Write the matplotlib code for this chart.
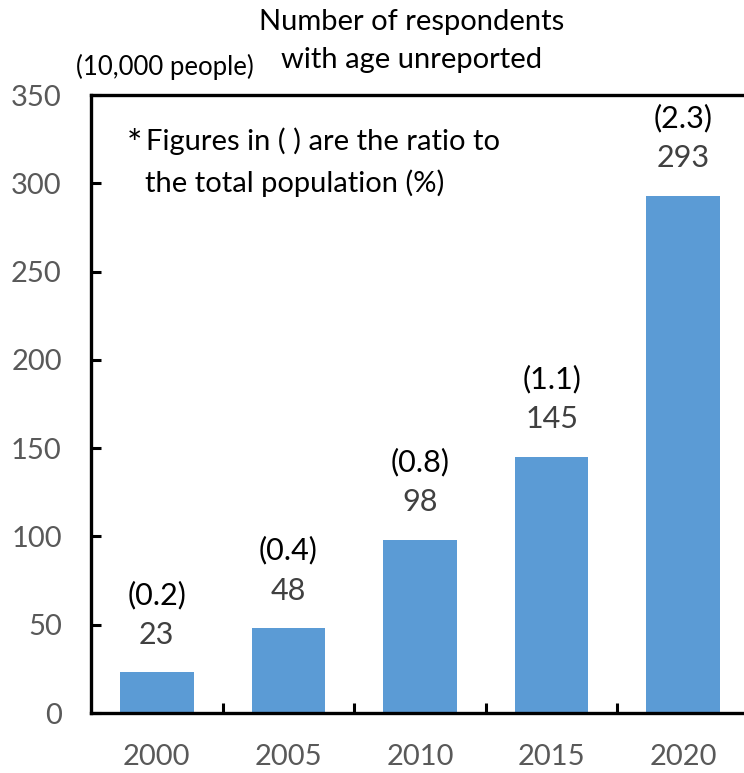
import matplotlib
matplotlib.use("Agg")
import matplotlib.pyplot as plt
from matplotlib.ticker import FixedLocator

plt.rcParams['font.family'] = ['Lato', 'DejaVu Sans']

years = ["2000", "2005", "2010", "2015", "2020"]
counts = [23, 48, 98, 145, 293]
ratios = ["(0.2)", "(0.4)", "(0.8)", "(1.1)", "(2.3)"]
y_ticks = [0, 50, 100, 150, 200, 250, 300, 350]

bar_color = "#5B9BD5"
label_gray = "#595959"
value_gray = "#404040"

fig = plt.figure(figsize=(7.44, 7.73), dpi=100)
ax = fig.add_axes([0.1223, 0.0776, 0.8844, 0.7995])

x = list(range(len(years)))
ax.bar(x, counts, width=0.56, color=bar_color, zorder=2)

ax.set_xlim(-0.5, len(years) - 0.5)
ax.set_ylim(0, 350)
ax.set_yticks(y_ticks)
ax.set_xticks(x)
ax.set_xticklabels(years)
ax.xaxis.set_minor_locator(FixedLocator([i + 0.5 for i in x[:-1]]))

ax.tick_params(axis='x', which='major', length=0, pad=22, labelsize=21, labelcolor=label_gray)
ax.tick_params(axis='x', which='minor', direction='in', length=7, width=2.2)
ax.tick_params(axis='y', direction='in', length=7, width=2.2, pad=21, labelsize=21, labelcolor=label_gray)

for side in ['left', 'bottom', 'top', 'right']:
    ax.spines[side].set_linewidth(2.4)
    ax.spines[side].set_color('black')

for xi, c, r in zip(x, counts, ratios):
    ax.annotate(str(c), (xi, c), xytext=(0, 27), textcoords='offset points',
                ha='center', va='center', fontsize=22, color=value_gray)
    ax.annotate(r, (xi, c), xytext=(0, 56), textcoords='offset points',
                ha='center', va='center', fontsize=22, color='black')

fig.text(0.553, 0.972, "Number of respondents", ha='center', va='center', fontsize=21, color='black')
fig.text(0.553, 0.923, "with age unreported", ha='center', va='center', fontsize=21, color='black')
fig.text(0.222, 0.914, "(10,000 people)", ha='center', va='center', fontsize=18.5, color='black')

fig.text(0.170, 0.812, "*", ha='left', va='center', fontsize=26, color='black')
fig.text(0.196, 0.817, "Figures in ( ) are the ratio to", ha='left', va='center', fontsize=21, color='black')
fig.text(0.195, 0.763, "the total population (%)", ha='left', va='center', fontsize=21, color='black')

fig.savefig("out.png", dpi=100)
